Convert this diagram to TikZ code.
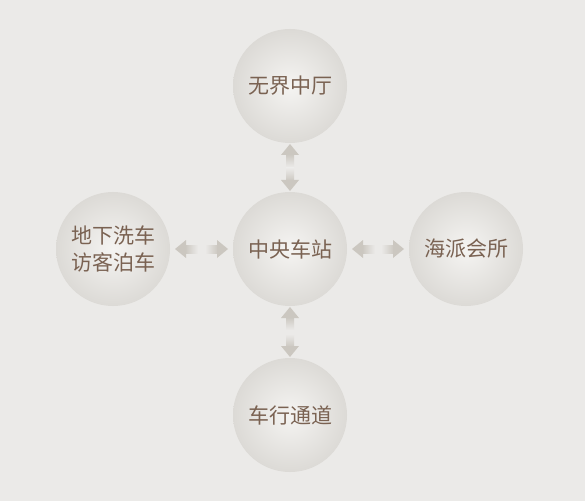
\documentclass[tikz,border=0pt]{standalone}
\usepackage{fontspec}
\newfontfamily\cjk{Noto Sans CJK SC}
\usetikzlibrary{calc,positioning}
\definecolor{pagebg}{HTML}{EBEAE8}
\definecolor{ballin}{HTML}{F5F4F2}
\definecolor{ballout}{HTML}{DCDAD6}
\definecolor{labeltone}{HTML}{7A6252}
\definecolor{arrowtone}{HTML}{CBC7C0}
\tikzset{hall/.style={circle,minimum size=114pt,inner sep=0pt,inner color=ballin,outer color=ballout,
  text=labeltone,font=\cjk\fontsize{21}{27}\selectfont,align=center}}

% one half of a link: tip at #1, pointing along angle #2
\newcommand\halflink[2]{%
  \begin{scope}[shift={(#1)},rotate=#2]
    \shade[top color=pagebg,bottom color=arrowtone,shading angle=#2+90] (-23,-4) rectangle (-10,4);
    \fill[arrowtone] (0,0) -- (-11,9) -- (-11,-9) -- cycle;
  \end{scope}}
% both halves between two halls
\newcommand\linkpair[4]{%
  \halflink{$(#2)!#4!(#1)$}{#3}
  \halflink{$(#1)!#4!(#2)$}{#3+180}}

\begin{document}
\begin{tikzpicture}[x=1pt,y=1pt]
\useasboundingbox[fill=pagebg] (0,0) rectangle (585,501);

% Nodes
\node[hall] (hub) at (290,252) {中央车站};
\node[hall] (top) at (290,415) {无界中厅};
\node[hall] (bottom) at (290,86) {车行通道};
\node[hall] (left) at (113,252) {地下洗车\\访客泊车};
\node[hall] (right) at (466,252) {海派会所};

% The links
\linkpair{hub}{top}{90}{58pt}
\linkpair{hub}{bottom}{-90}{58pt}
\linkpair{hub}{left}{180}{62pt}
\linkpair{hub}{right}{0}{62pt}

\end{tikzpicture}
\end{document}
